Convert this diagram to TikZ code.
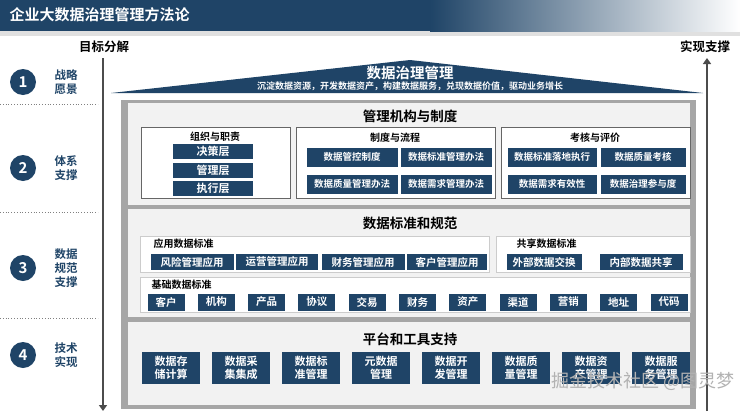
\documentclass[tikz,border=0pt]{standalone}
\usepackage{fontspec}
\setmainfont{Noto Sans CJK SC}[BoldFont={Noto Sans CJK SC Bold}]
\usetikzlibrary{arrows.meta}
\definecolor{navy}{HTML}{1F4467}
\definecolor{framegray}{HTML}{A6A6A6}
\definecolor{panelgray}{HTML}{F2F2F2}
\tikzset{
  dbox/.style={fill=navy, text=white, inner sep=0pt, font=\bfseries\fontsize{9.5}{10}\selectfont},
  subbox/.style={draw=gray!80!black, fill=white, line width=0.6pt},
  panel/.style={fill=panelgray, draw=none},
  ptitle/.style={font=\bfseries\fontsize{13.5}{15}\selectfont, text=black},
  stitle/.style={font=\bfseries\fontsize{10}{12}\selectfont, text=black},
  stepnum/.style={circle, fill=navy, text=white, minimum size=26pt, inner sep=0pt, font=\bfseries\fontsize{15}{17}\selectfont},
  steplabel/.style={font=\bfseries\fontsize{11.5}{14}\selectfont, text=navy, align=center},
  sidearrow/.style={line width=2.5pt, draw=gray!60!black, -{Triangle[length=6pt,width=8pt]}}
}
\begin{document}
\begin{tikzpicture}[x=1pt,y=-1pt]
  \useasboundingbox (0,0) rectangle (740,413);
  \fill[white] (0,0) rectangle (740,413);

  % title bar
  \fill[black!12] (0,31) rectangle (740,36);
  \fill[navy] (0,0) rectangle (430,31);
  \shade[left color=navy, right color=white] (430,0) rectangle (740,31);
  \node[anchor=west, text=white, font=\bfseries\fontsize{15}{17}\selectfont] (title) at (6,15) {企业大数据治理管理方法论};

  % side arrows
  \node[font=\bfseries\fontsize{12.5}{14}\selectfont] (goal) at (104,47) {目标分解};
  \node[font=\bfseries\fontsize{12.5}{14}\selectfont] (support) at (705,47) {实现支撑};
  \coordinate (lt) at (103,58);
  \coordinate (lb) at (103,411);
  \coordinate (rt) at (707,58);
  \coordinate (rb) at (707,411);
  \draw[sidearrow] (lt) -- (lb);
  \draw[sidearrow] (rb) -- (rt);

  % steps
  \node[stepnum] (s1) at (23,82) {1};
  \node[stepnum] (s2) at (23,168) {2};
  \node[stepnum] (s3) at (23,268) {3};
  \node[stepnum] (s4) at (23,355) {4};
  \node[steplabel] (l1) at (66,82) {战略\\愿景};
  \node[steplabel] (l2) at (66,168) {体系\\支撑};
  \node[steplabel] (l3) at (66,268) {数据\\规范\\支撑};
  \node[steplabel] (l4) at (66,355) {技术\\实现};
  \foreach \y in {104,212,318}
    \draw[gray, dotted, line width=0.8pt] (0,\y) -- (98,\y);

  % roof
  \fill[navy] (111,93) -- (410,60) -- (703,93) -- cycle;
  \node[text=white, font=\bfseries\fontsize{14.5}{16}\selectfont] (roof) at (410,73) {数据治理管理};
  \node[text=white, font=\bfseries\fontsize{9}{10}\selectfont] (roofsub) at (410,86)
    {沉淀数据资源，开发数据资产，构建数据服务，兑现数据价值，驱动业务增长};

  % frame
  \fill[framegray] (121,100) rectangle (696,409);
  \fill[panel] (128,103) rectangle (690,205);
  \fill[panel] (128,209) rectangle (690,317);
  \fill[panel] (128,322) rectangle (690,405);

  % management
  \node[ptitle] (mgmt) at (410,116) {管理机构与制度};
  \draw[subbox] (141,127) rectangle (290,198);
  \draw[subbox] (296,127) rectangle (495,198);
  \draw[subbox] (501,127) rectangle (690,198);
  \node[stitle] (org) at (215,137) {组织与职责};
  \node[dbox, minimum width=80pt, minimum height=15pt, font=\bfseries\fontsize{11}{12}\selectfont] (o1) at (213,151) {决策层};
  \node[dbox, minimum width=80pt, minimum height=15pt, font=\bfseries\fontsize{11}{12}\selectfont] (o2) at (213,170) {管理层};
  \node[dbox, minimum width=80pt, minimum height=15pt, font=\bfseries\fontsize{11}{12}\selectfont] (o3) at (213,188) {执行层};
  \node[stitle] (rule) at (395,138) {制度与流程};
  \node[dbox, minimum width=91pt, minimum height=19pt] (r1) at (352,157) {数据管控制度};
  \node[dbox, minimum width=91pt, minimum height=19pt] (r2) at (446,157) {数据标准管理办法};
  \node[dbox, minimum width=91pt, minimum height=19pt] (r3) at (352,184) {数据质量管理办法};
  \node[dbox, minimum width=91pt, minimum height=19pt] (r4) at (446,184) {数据需求管理办法};
  \node[stitle] (eval) at (595,138) {考核与评价};
  \node[dbox, minimum width=89pt, minimum height=19pt] (e1) at (552,157) {数据标准落地执行};
  \node[dbox, minimum width=85pt, minimum height=19pt] (e2) at (643,157) {数据质量考核};
  \node[dbox, minimum width=89pt, minimum height=19pt] (e3) at (552,184) {数据需求有效性};
  \node[dbox, minimum width=85pt, minimum height=19pt] (e4) at (643,184) {数据治理参与度};

  % standards
  \node[ptitle] (std) at (410,223) {数据标准和规范};
  \draw[subbox, draw=gray!40] (140,236) rectangle (489,272);
  \draw[subbox, draw=gray!40] (496,236) rectangle (690,272);
  \draw[subbox, draw=gray!40] (140,277) rectangle (690,312);
  \node[stitle, anchor=west] (app) at (150,244) {应用数据标准};
  \node[stitle, anchor=west] (share) at (513,244) {共享数据标准};
  \node[stitle, anchor=west] (base) at (148,285) {基础数据标准};
  \node[dbox, minimum width=83pt, minimum height=16pt, font=\bfseries\fontsize{10.5}{12}\selectfont] (a1) at (192,262) {风险管理应用};
  \node[dbox, minimum width=82pt, minimum height=16pt, font=\bfseries\fontsize{10.5}{12}\selectfont] (a2) at (277,262) {运营管理应用};
  \node[dbox, minimum width=83pt, minimum height=16pt, font=\bfseries\fontsize{10.5}{12}\selectfont] (a3) at (363,262) {财务管理应用};
  \node[dbox, minimum width=80pt, minimum height=16pt, font=\bfseries\fontsize{10.5}{12}\selectfont] (a4) at (447,262) {客户管理应用};
  \node[dbox, minimum width=75pt, minimum height=16pt, font=\bfseries\fontsize{10.5}{12}\selectfont] (h1) at (544,262) {外部数据交换};
  \node[dbox, minimum width=83pt, minimum height=16pt, font=\bfseries\fontsize{10.5}{12}\selectfont] (h2) at (641,262) {内部数据共享};
  \foreach \t [count=\i from 0] in {客户,机构,产品,协议,交易,财务,资产,渠道,营销,地址,代码}
    \node[dbox, minimum width=37pt, minimum height=17pt, font=\bfseries\fontsize{10.5}{12}\selectfont] (b\i) at (166+50.3*\i,302) {\t};

  % platform
  \node[ptitle] (plat) at (410,339) {平台和工具支持};
  \foreach \t [count=\i from 0] in {数据存\\储计算,数据采\\集集成,数据标\\准管理,元数据\\管理,数据开\\发管理,数据质\\量管理,数据资\\产管理,数据服\\务管理}
    \node[dbox, minimum width=58pt, minimum height=32pt, align=center, font=\bfseries\fontsize{11}{12.5}\selectfont] (p\i) at (171+70*\i,368) {\t};

  % watermark
  \node[text=gray!60, font=\fontsize{18}{20}\selectfont, anchor=east] (mark) at (738,381) {掘金技术社区 @图灵梦};
\end{tikzpicture}
\end{document}
